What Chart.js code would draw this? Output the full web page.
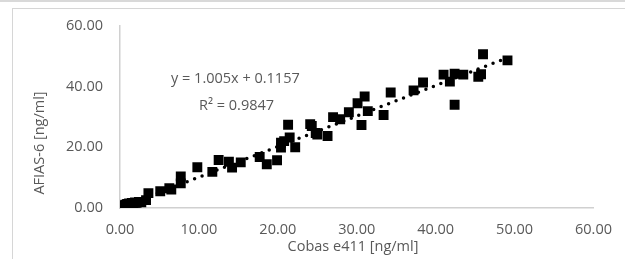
<!DOCTYPE html>
<html>
<head>
<meta charset="utf-8">
<script src="https://cdn.jsdelivr.net/npm/chart.js@4/dist/chart.umd.min.js"></script>
<style>
  html, body { margin: 0; padding: 0; background: #fff; }
  #wrap { position: relative; width: 625px; height: 259px; overflow: hidden; }
  #topstrip { position: absolute; left: 0; top: 0; width: 625px; height: 2px; background: #d9d9d9; }
  #frame { position: absolute; left: 12px; top: 8px; width: 700px; height: 300px; border: 1px solid #d6d6d6; }
  canvas { position: absolute; left: 0; top: 0; }
</style>
</head>
<body>
<div id="wrap">
  <div id="topstrip"></div>
  <div id="frame"></div>
  <canvas id="c" width="625" height="259"></canvas>
</div>
<script>
// ---- data ----
const xValues = [0.0,0.1,0.15,0.2,0.3,0.35,0.45,0.5,0.6,0.7,0.8,0.9,1.0,1.15,1.3,1.5,1.7,1.9,2.1,2.4,2.7,
  3.3,3.6,5.1,6.25,6.5,7.7,7.7,9.8,11.7,12.5,13.8,14.2,15.3,17.7,18.6,19.9,20.4,20.4,20.8,21.3,21.5,22.2,
  24.1,24.3,24.8,25.0,26.3,27.0,27.9,29.0,30.1,30.6,31.0,31.4,33.4,34.3,37.2,38.4,41.0,41.8,42.4,42.4,43.5,45.4,45.75,46.0,49.1];
const yValues = [0.1,0.3,0.0,0.5,0.2,0.7,0.4,0.9,0.6,1.1,0.8,1.3,1.0,1.5,1.3,1.7,1.6,1.8,1.7,2.0,1.9,
  2.6,4.9,5.5,6.5,6.1,10.4,8.1,13.4,11.9,15.8,15.2,13.3,15.0,16.8,14.4,15.7,19.9,21.5,22.0,27.4,23.2,20.0,
  27.6,27.0,24.7,24.2,23.7,29.9,29.2,31.5,34.5,27.3,36.7,31.9,30.6,38.0,38.7,41.3,43.9,41.6,44.2,34.0,43.9,43.2,44.0,50.6,48.6];
const slope = 1.005;
const intercept = 0.1157;
const equationText = 'y = 1.005x + 0.1157';
const r2Text = 'R² = 0.9847';
const xTitle = 'Cobas e411 [ng/ml]';
const yTitle = 'AFIAS-6 [ng/ml]';
const xTicks = [0,10,20,30,40,50,60];
const yTicks = [0,20,40,60];

const points = xValues.map((x, i) => ({ x: x, y: yValues[i] }));
const xMin = Math.min(...xValues), xMax = Math.max(...xValues);
const trend = [{ x: xMin, y: slope * xMin + intercept }, { x: xMax, y: slope * xMax + intercept }];

const FONT = "'Open Sans', 'Noto Sans', sans-serif";
const GRAY = '#595959';

const textPlugin = {
  id: 'texts',
  afterDraw(chart) {
    const ctx = chart.ctx;
    ctx.save();
    ctx.fillStyle = GRAY;
    ctx.font = '14.5px ' + FONT;
    ctx.textBaseline = 'middle';
    ctx.textAlign = 'left';
    ctx.fillText(equationText, 171, 79);
    ctx.fillText(r2Text, 199, 106);
    ctx.textAlign = 'center';
    ctx.fillText(xTitle, 353, 247);
    ctx.translate(40, 143);
    ctx.rotate(-Math.PI / 2);
    ctx.fillText(yTitle, 0, 0);
    ctx.restore();
  }
};

new Chart(document.getElementById('c'), {
  type: 'scatter',
  data: {
    datasets: [
      {
        label: 'trend',
        data: trend,
        showLine: true,
        borderColor: '#000',
        borderWidth: 3.5,
        borderDash: [0, 8],
        borderCapStyle: 'round',
        pointRadius: 0,
        fill: false
      },
      {
        label: 'data',
        data: points,
        pointStyle: 'rect',
        pointRadius: 7,
        backgroundColor: '#000',
        borderColor: '#000',
        borderWidth: 0
      }
    ]
  },
  options: {
    responsive: false,
    animation: false,
    devicePixelRatio: 1,
    layout: { padding: { top: 23.5, right: 25, bottom: 0, left: 0 } },
    plugins: { legend: { display: false }, tooltip: { enabled: false } },
    scales: {
      x: {
        type: 'linear',
        min: 0, max: 60,
        afterBuildTicks(s) { s.ticks = xTicks.map(v => ({ value: v })); },
        afterFit(s) { s.height = 51; },
        grid: { display: false, drawTicks: false },
        border: { display: true, color: '#d0d0d0', width: 1.5 },
        ticks: {
          padding: 13,
          color: GRAY,
          font: { family: FONT, size: 14.5 },
          callback: v => v.toFixed(2)
        }
      },
      y: {
        type: 'linear',
        min: 0, max: 60,
        afterBuildTicks(s) { s.ticks = yTicks.map(v => ({ value: v })); },
        afterFit(s) { s.width = 120; },
        grid: { display: false, drawTicks: false },
        border: { display: true, color: '#d0d0d0', width: 1.5 },
        ticks: {
          padding: 17,
          color: GRAY,
          font: { family: FONT, size: 14.5 },
          callback: v => v.toFixed(2)
        }
      }
    }
  },
  plugins: [textPlugin]
});
</script>
</body>
</html>
